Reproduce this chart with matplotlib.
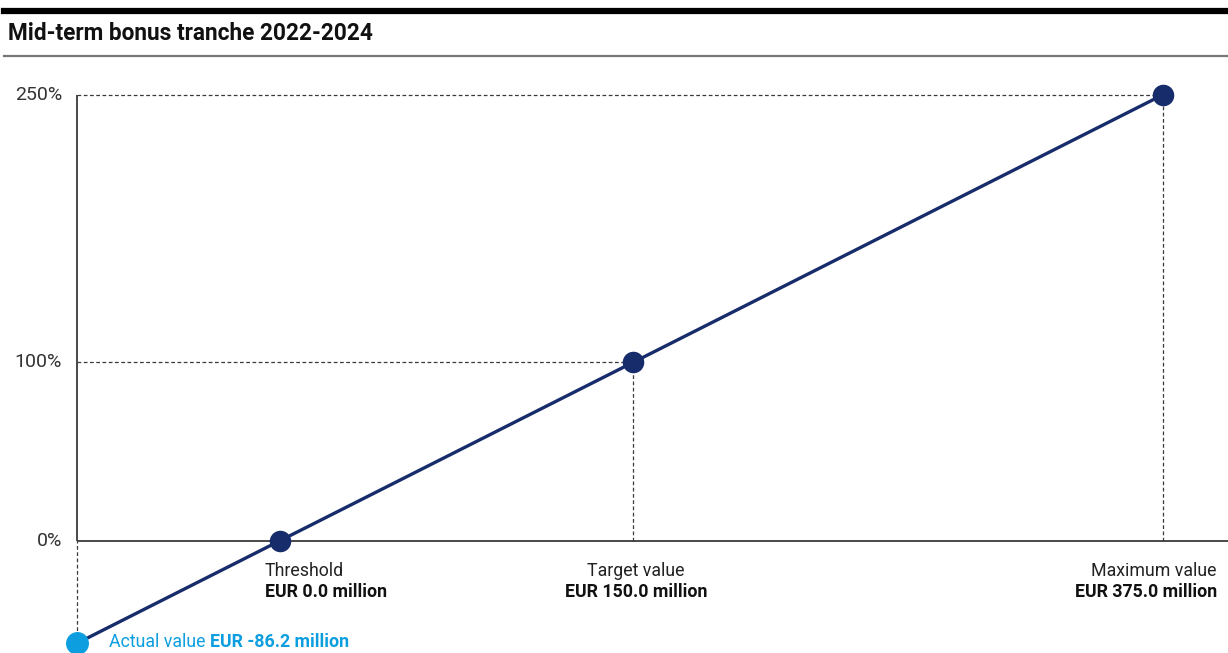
import matplotlib.pyplot as plt

# chart data
point_names = ["Actual value", "Threshold", "Target value", "Maximum value"]
eur_million = [-86.2, 0.0, 150.0, 375.0]
payout_pct = [-57.5, 0, 100, 250]
y_ticks = [0, 100, 250]
y_tick_labels = ["0%", "100%", "250%"]

NAVY = "#172c6b"
LIGHT_BLUE = "#0d9ee0"
GREY = "#3a3a3a"

plt.rcParams["font.family"] = ["Roboto", "DejaVu Sans"]

fig = plt.figure(figsize=(12.28, 6.53), dpi=100)
ax = fig.add_axes([0, 0, 1, 1])
ax.set_axis_off()

# pixel mapping: px = 280 + 2.3546*x, py = 540.7 - 1.7838*y
ax.set_xlim(-280 / 2.3546, (1228 - 280) / 2.3546)
ax.set_ylim((540.7 - 653) / 1.7838, 540.7 / 1.7838)

x_act, x_thr, x_tgt, x_max = eur_million
y_act, y_thr, y_tgt, y_max = payout_pct

# header: black bar, title, grey rule
fig.add_artist(plt.Line2D([0.003, 1], [1 - 10.5 / 653] * 2, color="black", lw=4.5,
                          transform=fig.transFigure))
fig.text(8 / 1228, 1 - 34 / 653, "Mid-term bonus tranche 2022-2024", fontsize=16.3,
         fontweight="bold", color="#111111", va="center", ha="left")
fig.add_artist(plt.Line2D([0.003, 1], [1 - 56 / 653] * 2, color="#777777", lw=1.6,
                          transform=fig.transFigure))

# axes lines
ax.plot([x_act, ax.get_xlim()[1]], [0, 0], color=GREY, lw=1.3, solid_capstyle="butt")
ax.plot([x_act, x_act], [0, y_max], color=GREY, lw=1.3, solid_capstyle="butt")

# guide lines
dash = dict(color=GREY, lw=0.9, ls=(0, (3, 2)))
ax.plot([x_act, x_max], [y_max, y_max], **dash)
ax.plot([x_act, x_tgt], [y_tgt, y_tgt], **dash)
ax.plot([x_tgt, x_tgt], [0, y_tgt], **dash)
ax.plot([x_max, x_max], [0, y_max], **dash)
ax.plot([x_act, x_act], [y_act, 0], **dash)

# y tick labels
for val, lab in zip(y_ticks, y_tick_labels):
    ax.text(x_act - 15 / 2.3546, val, lab, ha="right", va="center", fontsize=14,
            color="#333333")

# payout curve
ax.plot(eur_million, payout_pct, color=NAVY, lw=2.4, zorder=3)
ax.plot(eur_million[1:], payout_pct[1:], "o", color=NAVY, ms=14.5, zorder=4)
ax.plot([x_act], [y_act], "o", color=LIGHT_BLUE, ms=15.5, zorder=4, clip_on=False)

# point labels
y1 = (540.7 - 571) / 1.7838
y2 = (540.7 - 592) / 1.7838
for x, name, ha, dx in [(x_thr, point_names[1], "left", -15),
                        (x_tgt, point_names[2], "center", 3),
                        (x_max, point_names[3], "right", 54)]:
    xx = x + dx / 2.3546
    ax.text(xx, y1, name, ha=ha, va="center", fontsize=12.8, color="#222222")
    ax.text(xx, y2, "EUR %.1f million" % x, ha=ha, va="center", fontsize=12.8,
            color="#111111", fontweight="bold")

ax.text(x_act + 32 / 2.3546, y_act + 1 / 1.7838, "Actual value ", ha="left", va="center",
        fontsize=12.8, color=LIGHT_BLUE)
ax.annotate("EUR %.1f million" % x_act, xy=(1, 0.5), xycoords=ax.texts[-1],
            ha="left", va="center", fontsize=12.8, color=LIGHT_BLUE, fontweight="bold")

fig.savefig("out.png", dpi=100)
